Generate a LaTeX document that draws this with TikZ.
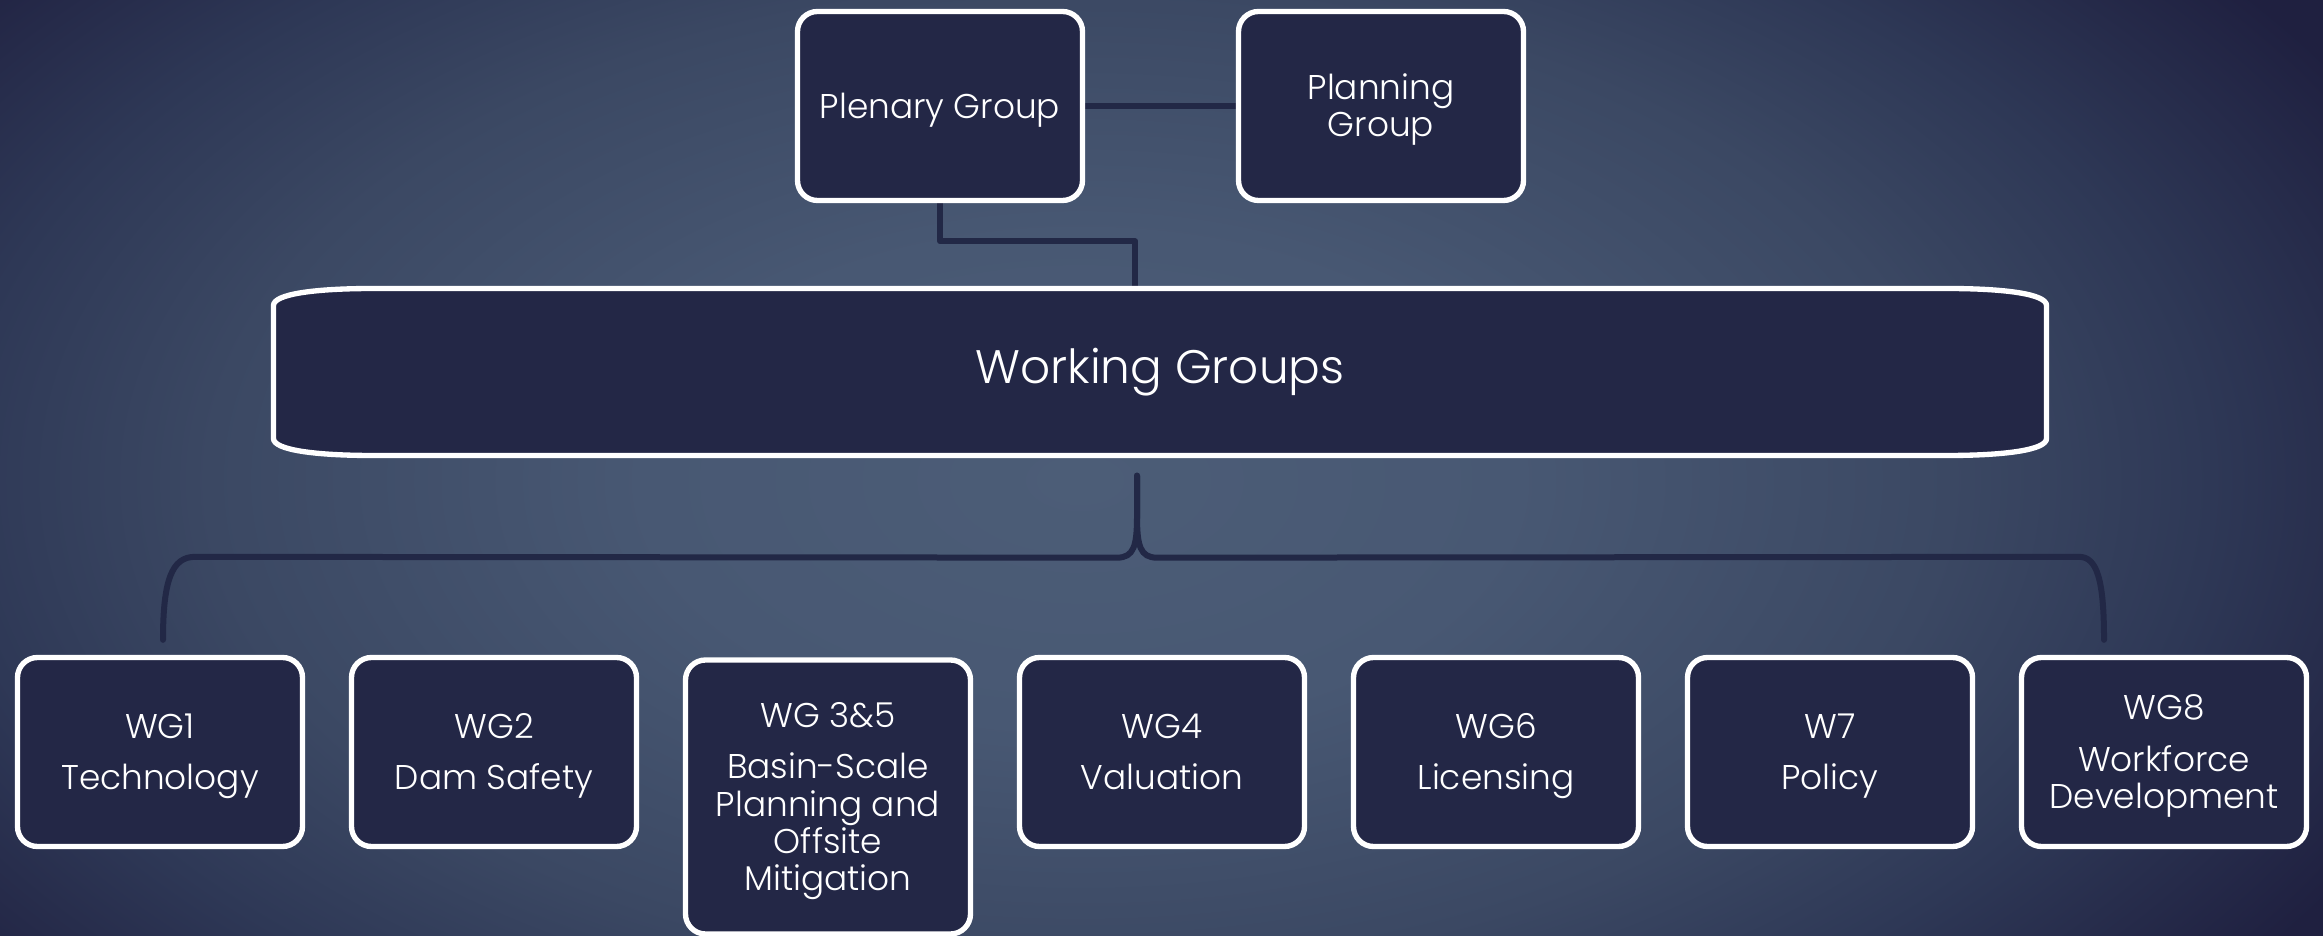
\documentclass[tikz,border=0pt]{standalone}
\usepackage{fontspec}
\setmainfont{Poppins Light}
\usetikzlibrary{calc}
\definecolor{boxfill}{HTML}{232746}
\definecolor{linecol}{HTML}{222846}
\definecolor{bgA}{HTML}{4C5D77}
\definecolor{bgB}{HTML}{485873}
\definecolor{bgC}{HTML}{3B4863}
\definecolor{bgE}{HTML}{2E3856}
\definecolor{bgD}{HTML}{1F2040}
\pgfdeclareradialshading{bgshade}{\pgfpoint{0bp}{0bp}}{color(0bp)=(bgA); color(7.5bp)=(bgB); color(15bp)=(bgC); color(19.5bp)=(bgE); color(25bp)=(bgD); color(50bp)=(bgD)}
\pgfdeclarelayer{bglayer}
\pgfsetlayers{bglayer,main}
\newcommand{\fhi}{\rule{0pt}{10pt}}
\newcommand{\flo}{\vphantom{gy}}
\begin{document}
\begin{tikzpicture}[x=0.3pt,y=-0.3pt,
  box/.style={draw=white, line width=1.6pt, fill=boxfill, rounded corners=6pt,
    minimum width=85.5pt, minimum height=56.7pt, inner sep=0pt, text=white,
    align=center, font=\fontsize{10.3}{11.2}\selectfont},
  wgshape/.style={draw=white, line width=1.6pt, fill=boxfill},
  conn/.style={draw=linecol, line width=1.8pt, line cap=round, line join=round}]
\useasboundingbox (0,0) rectangle (2323,936);
\begin{pgfonlayer}{bglayer}
\fill[bgD] (0,0) rectangle (2323,936);
\begin{scope}
\clip (0,0) rectangle (2323,936);
\shade[shading=bgshade] (1080,480) ellipse [x radius=435pt, y radius=246pt];
\end{scope}
\end{pgfonlayer}

% top boxes
\node[box] (plen) at (940,106) {\fhi Plenary Group\flo};
\node[box] (plan) at (1381,106) {\fhi Planning\\Group\flo};

% working groups banner
\draw[wgshape] (373.5,288.5) -- (1946.5,288.5)
  .. controls (2005,288.5) and (2046.5,294) .. (2046.5,305.5) -- (2046.5,438.5)
  .. controls (2046.5,450) and (2005,455.5) .. (1946.5,455.5) -- (373.5,455.5)
  .. controls (315,455.5) and (273.5,450) .. (273.5,438.5) -- (273.5,305.5)
  .. controls (273.5,294) and (315,288.5) .. (373.5,288.5) -- cycle;
\node[minimum width=532.5pt, minimum height=50.1pt, inner sep=0pt, text=white,
  font=\fontsize{14.1}{16}\selectfont] (wg) at (1160,372) {Working Groups};

% bottom boxes
\node[box] (wg1) at (160,752) {\fhi WG1\\[4.3pt]Technology\flo};
\node[box] (wg2) at (494,752) {\fhi WG2\\[4.3pt]Dam Safety\flo};
\node[box, minimum height=82.2pt] (wg35) at (828,797) {\fhi WG 3\&5\\[4.3pt]Basin-Scale\\Planning and\\Offsite\\Mitigation\flo};
\node[box] (wg4) at (1162,752) {\fhi WG4\\[4.3pt]Valuation\flo};
\node[box] (wg6) at (1496,752) {\fhi WG6\\[4.3pt]Licensing\flo};
\node[box] (w7) at (1830,752) {\fhi W7\\[4.3pt]Policy\flo};
\node[box] (wg8) at (2164,752) {\fhi WG8\\[4.3pt]Workforce\\Development\flo};

% connectors
\begin{pgfonlayer}{bglayer}
\draw[conn] (plen.east) -- (plan.west);
\draw[conn] (plen.south) -- ++(0,38) -| ([xshift=-7.5pt]wg.north);
\coordinate (tip) at ($(wg.south)+(-23,19.5)$);
\coordinate (bl) at ($(wg1.north)+(3,-15)$);
\coordinate (br) at ($(wg8.north)+(-60,-15)$);
\draw[conn] (tip) -- ++(0,40) .. controls ++(0,30) and ++(17,0) .. ($(tip)+(-20,82)$)
  -- ($(bl)+(32,-83)$) .. controls ++(-23,0) and ++(0,-60) .. (bl);
\draw[conn] (tip) -- ++(0,40) .. controls ++(0,30) and ++(-17,0) .. ($(tip)+(20,82)$)
  -- ($(br)+(-25,-83)$) .. controls ++(18,0) and ++(0,-60) .. (br);
\end{pgfonlayer}
\end{tikzpicture}
\end{document}
